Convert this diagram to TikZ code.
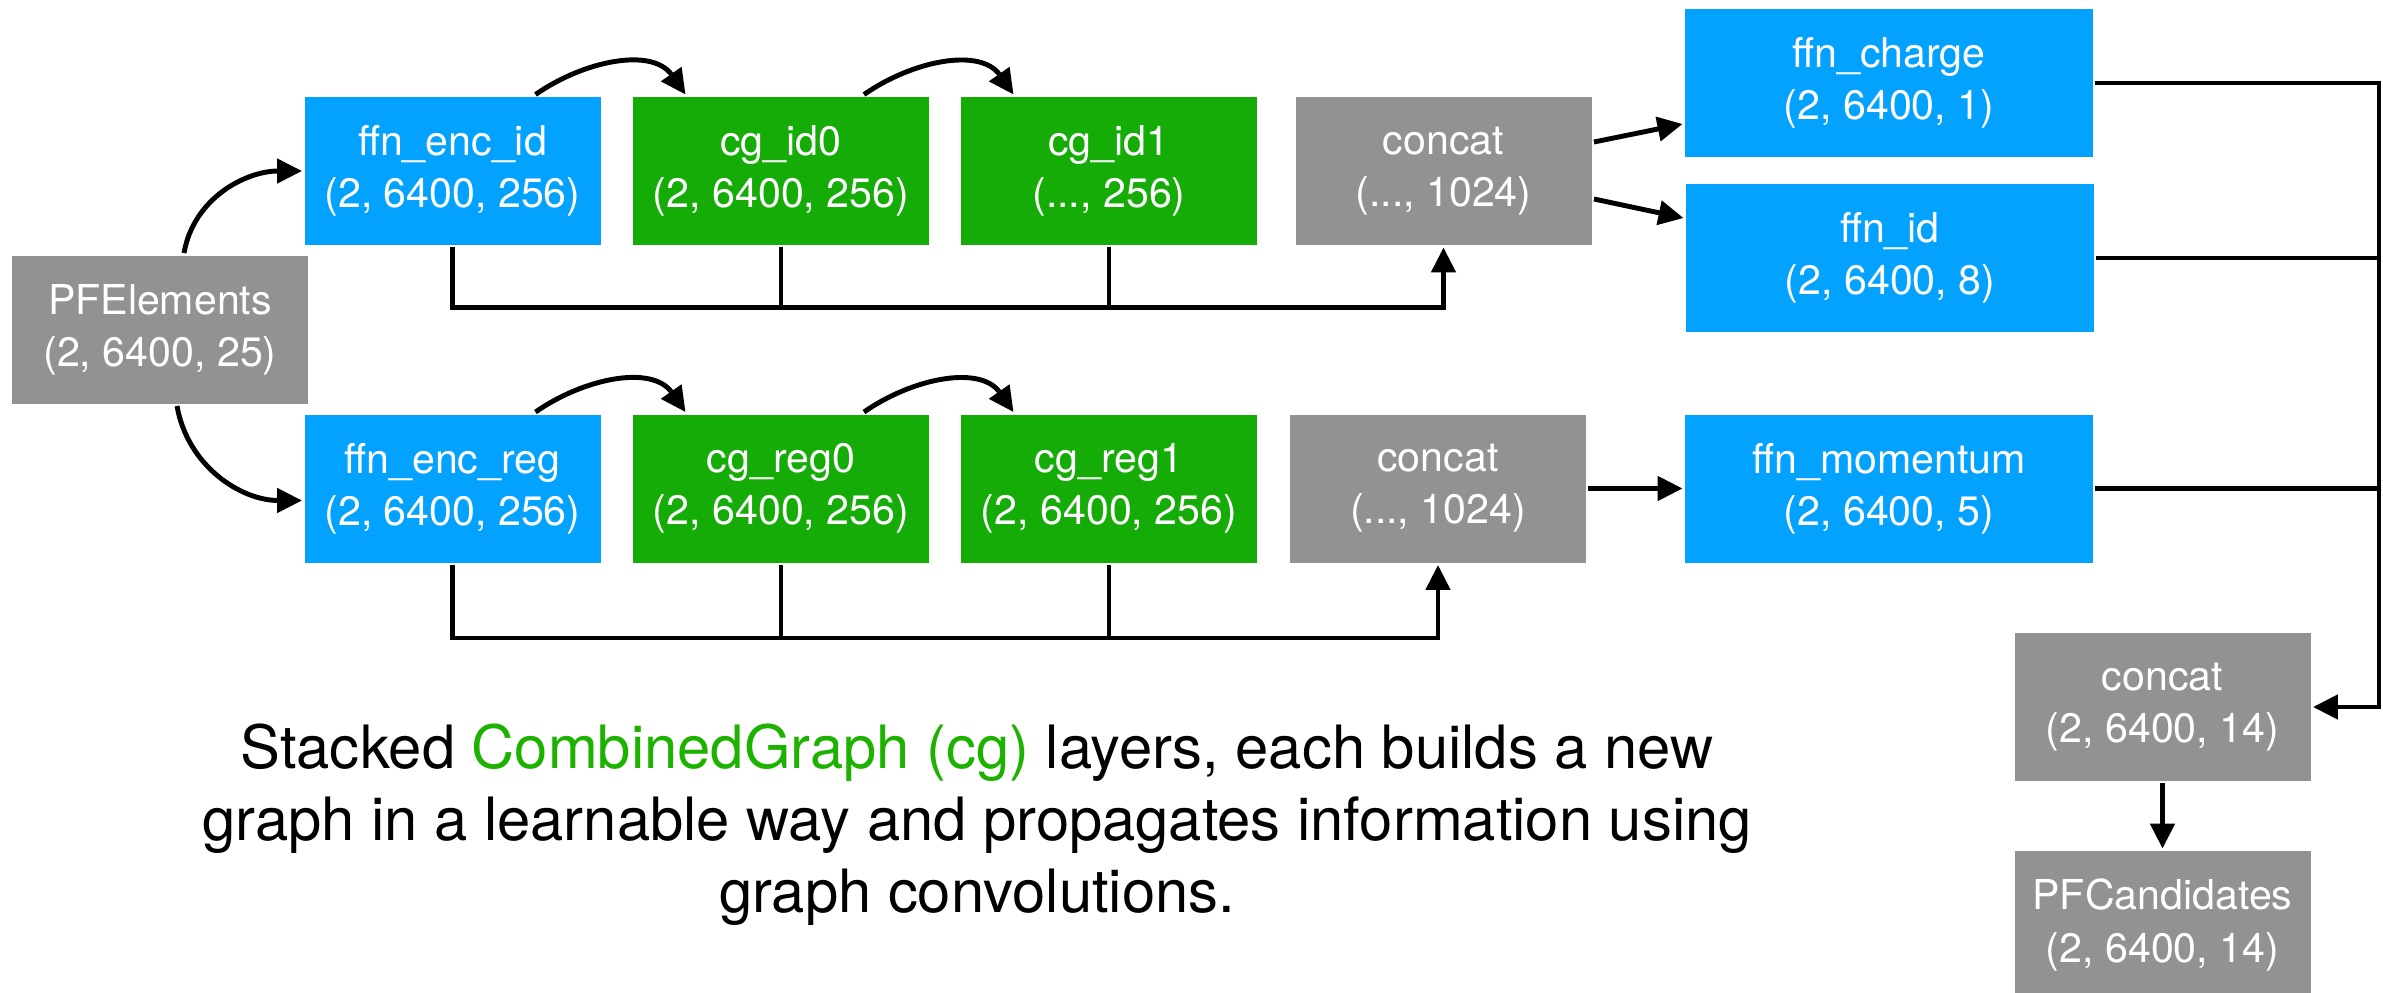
\documentclass[tikz,border=0pt]{standalone}
\usepackage{fontspec}
\setmainfont{TeX Gyre Heros}
\usetikzlibrary{arrows.meta}
\definecolor{nnblue}{HTML}{04A2FF}
\definecolor{nngreen}{HTML}{16AC08}
\definecolor{nngray}{HTML}{929292}
\definecolor{txtgreen}{HTML}{1DB100}
\tikzset{
  layer/.style={minimum width=2.96cm, minimum height=1.48cm, inner sep=0pt,
    align=center, text=white, font=\fontsize{11.7}{14.8}\selectfont},
  ffn/.style={layer, fill=nnblue},
  cg/.style={layer, fill=nngreen},
  io/.style={layer, fill=nngray},
  wide/.style={minimum width=4.08cm},
  arr/.style={-{Triangle[length=0.25cm, width=0.24cm]}},
}
\begin{document}
\begin{tikzpicture}[line width=1.4pt]
\useasboundingbox (0,0) rectangle (23.83,9.92);
\node[io] (pfe) at (1.60, 6.625) {PFElements\\(2, 6400, 25)};
\node[ffn] (encid) at (4.525, 8.21) {ffn\_enc\_id\\(2, 6400, 256)};
\node[cg] (cgid0) at (7.81, 8.21) {cg\_id0\\(2, 6400, 256)};
\node[cg] (cgid1) at (11.09, 8.21) {cg\_id1\\(..., 256)};
\node[io] (concatid) at (14.435, 8.21) {concat\\(..., 1024)};
\node[ffn, wide] (charge) at (18.89, 9.09) {ffn\_charge\\(2, 6400, 1)};
\node[ffn, wide] (ffnid) at (18.90, 7.34) {ffn\_id\\(2, 6400, 8)};
\node[ffn] (encreg) at (4.525, 5.035) {ffn\_enc\_reg\\(2, 6400, 256)};
\node[cg] (cgreg0) at (7.81, 5.035) {cg\_reg0\\(2, 6400, 256)};
\node[cg] (cgreg1) at (11.09, 5.035) {cg\_reg1\\(2, 6400, 256)};
\node[io] (concatreg) at (14.38, 5.035) {concat\\(..., 1024)};
\node[ffn, wide] (momentum) at (18.89, 5.035) {ffn\_momentum\\(2, 6400, 5)};
\node[io] (concatout) at (21.625, 2.85) {concat\\(2, 6400, 14)};
\node[io] (pfcand) at (21.625, 0.67) {PFCandidates\\(2, 6400, 14)};
\coordinate (rail) at (23.79, 0);
\node[align=center, font=\fontsize{17}{20.5}\selectfont] (caption) at (9.77, 1.67)
  {Stacked \textcolor{txtgreen}{CombinedGraph (cg)} layers, each builds a new\\
   graph in a learnable way and propagates information using\\
   graph convolutions.};
\draw[arr] ([xshift=0.24cm]pfe.north) to[out=80, in=180] (encid.west);
\draw[arr] ([xshift=0.17cm]pfe.south) to[out=-80, in=180] ([yshift=-0.12cm]encreg.west);
\draw[arr] ([xshift=0.83cm]encid.north) to[out=35, in=125] ([xshift=0.55cm]cgid0.north west);
\draw[arr] ([xshift=0.83cm]cgid0.north) to[out=35, in=125] ([xshift=0.55cm]cgid1.north west);
\draw[arr] ([xshift=0.83cm]encreg.north) to[out=35, in=125] ([xshift=0.55cm]cgreg0.north west);
\draw[arr] ([xshift=0.83cm]cgreg0.north) to[out=35, in=125] ([xshift=0.55cm]cgreg1.north west);
\draw[arr] (encid.south) -- ++(0,-0.60) -| (concatid.south);
\draw (cgid0.south) -- ++(0,-0.60);
\draw (cgid1.south) -- ++(0,-0.60);
\draw[arr] (encreg.south) -- ++(0,-0.73) -| (concatreg.south);
\draw (cgreg0.south) -- ++(0,-0.73);
\draw (cgreg1.south) -- ++(0,-0.73);
\draw[arr] ([yshift=0.29cm]concatid.east) -- ([yshift=-0.41cm]charge.west);
\draw[arr] ([yshift=-0.28cm]concatid.east) -- ([yshift=0.40cm]ffnid.west);
\draw[arr] (concatreg.east) -- (momentum.west);
\draw[arr] (charge.east) -- (charge.east -| rail) |- (concatout.east);
\draw (ffnid.east) -- (ffnid.east -| rail);
\draw (momentum.east) -- (momentum.east -| rail);
\draw[arr] (concatout.south) -- (pfcand.north);
\end{tikzpicture}
\end{document}
